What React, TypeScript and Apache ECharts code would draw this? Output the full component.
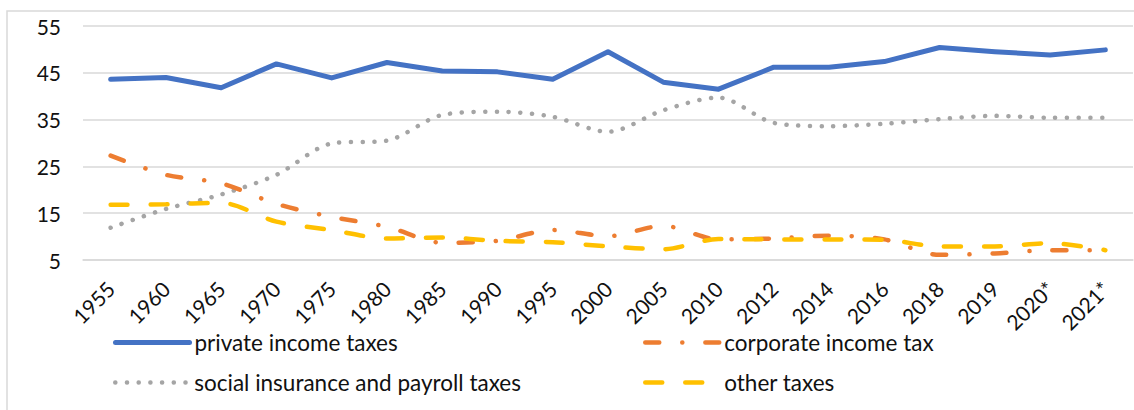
import React, { useEffect, useRef } from "react";
import * as echarts from "echarts";

const categories = ["1955", "1960", "1965", "1970", "1975", "1980", "1985", "1990", "1995", "2000", "2005", "2010", "2012", "2014", "2016", "2018", "2019", "2020*", "2021*"];
const privateIncome = [43.6, 44.0, 41.8, 46.9, 43.9, 47.2, 45.4, 45.2, 43.6, 49.5, 43.0, 41.5, 46.2, 46.2, 47.4, 50.4, 49.5, 48.8, 49.9];
const socialInsurance = [11.9, 15.9, 19.0, 23.2, 29.9, 30.5, 36.0, 36.7, 35.6, 32.4, 37.0, 39.7, 34.3, 33.6, 34.1, 35.1, 35.8, 35.4, 35.4];
const corporateIncome = [27.3, 23.2, 21.4, 17.0, 14.2, 12.1, 8.7, 9.1, 11.4, 10.1, 12.3, 9.4, 9.6, 10.2, 9.4, 6.1, 6.4, 7.1, 7.1];
const otherTaxes = [16.8, 16.9, 17.2, 13.2, 11.4, 9.6, 9.8, 9.1, 8.8, 7.9, 7.3, 9.5, 9.4, 9.4, 9.3, 7.9, 7.9, 8.6, 7.1];
const seriesNames = ["private income taxes", "corporate income tax", "social insurance and payroll taxes", "other taxes"];

const FONT = "Lato, 'Liberation Sans', sans-serif";

export default function App() {
  const ref = useRef<HTMLDivElement>(null);
  useEffect(() => {
    if (!ref.current) return;
    const chart = echarts.init(ref.current, null, { renderer: "svg" });
    const legendBase = {
      orient: "horizontal",
      itemWidth: 74,
      itemHeight: 14,
      padding: 0,
      textStyle: { fontSize: 22.5, fontFamily: FONT, color: "#111" },
      itemStyle: { opacity: 0 },
      selectedMode: false,
    };
    chart.setOption({
      animation: false,
      backgroundColor: "#fff",
      graphic: [
        {
          type: "rect",
          shape: { x: 7, y: 11, width: 1140, height: 420 },
          style: { fill: "none", stroke: "#d9d9d9", lineWidth: 1.5 },
          silent: true,
        },
      ],
      grid: { left: 83, right: 1, top: 26, bottom: 150, containLabel: false },
      legend: [
        { ...legendBase, data: [seriesNames[0]], left: 113, top: 331, lineStyle: { width: 5, cap: "round" } },
        { ...legendBase, data: [seriesNames[1]], left: 643, top: 331, lineStyle: { width: 4.5, cap: "round", type: [14, 23, 0.1, 23] } },
        { ...legendBase, data: [seriesNames[2]], left: 113, top: 371, lineStyle: { width: 4.5, cap: "round", type: [0.1, 11.6] } },
        { ...legendBase, data: [seriesNames[3]], left: 643, top: 371, lineStyle: { width: 4.5, cap: "round", type: [17, 23] } },
      ],
      xAxis: {
        type: "category",
        data: categories,
        boundaryGap: true,
        axisLine: { show: true, lineStyle: { color: "#d9d9d9", width: 1.5 } },
        axisTick: { show: false },
        axisLabel: { rotate: 45, interval: 0, fontSize: 21, fontFamily: FONT, color: "#111", margin: 25 },
      },
      yAxis: {
        type: "value",
        min: 5,
        max: 55,
        interval: 10,
        axisLine: { show: false },
        axisTick: { show: false },
        splitLine: { lineStyle: { color: "#d9d9d9", width: 1.5 } },
        axisLabel: { fontSize: 21, fontFamily: FONT, color: "#111", margin: 22 },
      },
      series: [
        {
          name: seriesNames[0],
          type: "line",
          data: privateIncome,
          symbol: "none",
          lineStyle: { color: "#4472C4", width: 5, cap: "round", join: "round" },
          itemStyle: { color: "#4472C4" },
          z: 5,
        },
        {
          name: seriesNames[1],
          type: "line",
          data: corporateIncome,
          symbol: "none",
          smooth: 0.3,
          lineStyle: { color: "#ED7D31", width: 4.5, cap: "round", type: [14, 23, 0.1, 23] },
          itemStyle: { color: "#ED7D31" },
          z: 3,
        },
        {
          name: seriesNames[2],
          type: "line",
          data: socialInsurance,
          symbol: "none",
          smooth: 0.3,
          lineStyle: { color: "#A5A5A5", width: 4.5, cap: "round", type: [0.1, 11.6] },
          itemStyle: { color: "#A5A5A5" },
          z: 2,
        },
        {
          name: seriesNames[3],
          type: "line",
          data: otherTaxes,
          symbol: "none",
          smooth: 0.3,
          lineStyle: { color: "#FFC000", width: 4.5, cap: "round", type: [17, 23] },
          itemStyle: { color: "#FFC000" },
          z: 4,
        },
      ],
    });
    return () => chart.dispose();
  }, []);
  return (
    <div
      ref={ref}
      style={{ position: "fixed", left: 0, top: 0, width: 1134, height: 410, background: "#fff" }}
    />
  );
}
